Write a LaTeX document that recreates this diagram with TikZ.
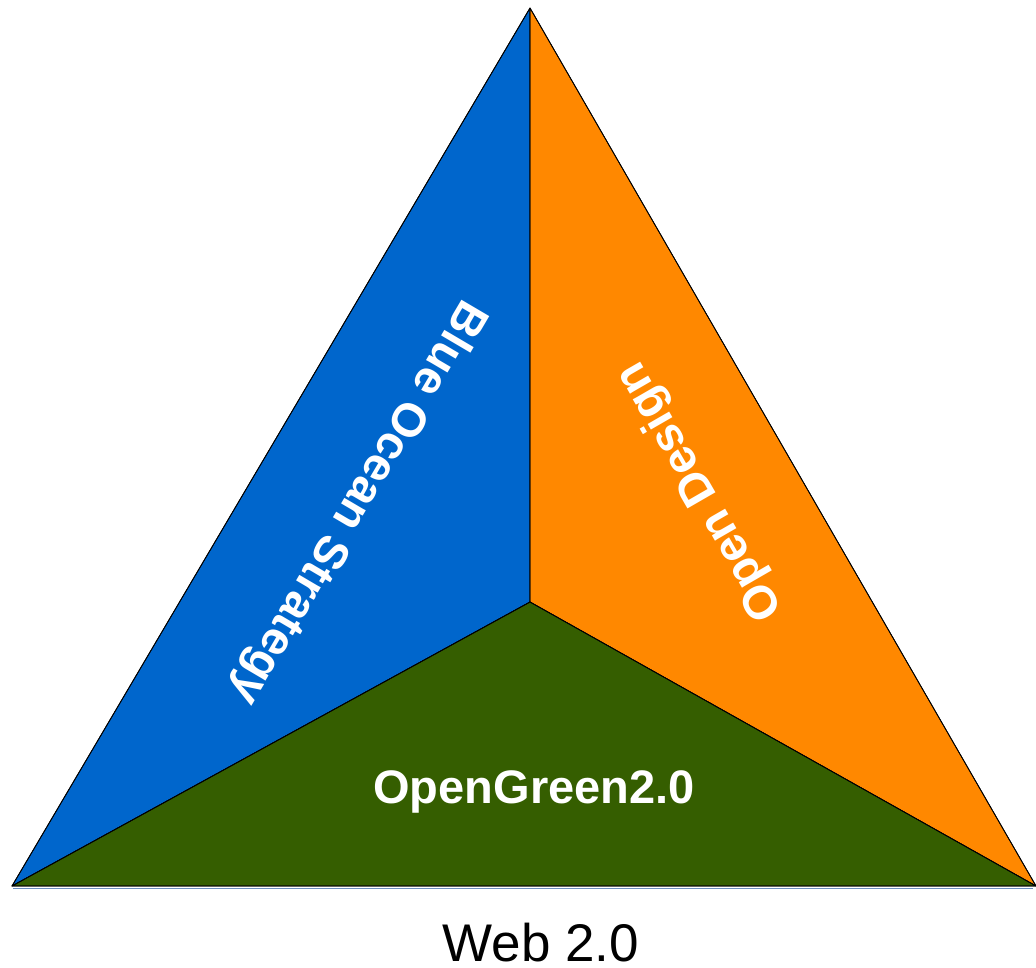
\documentclass[tikz,border=0pt]{standalone}
\usepackage{fontspec}
\setmainfont{Liberation Sans}
\begin{document}
\begin{tikzpicture}[x=1pt,y=-1pt,
  face/.style={draw=black, line width=0.8pt, line join=round},
  lbl/.style={text=white, font=\fontsize{47}{56}\selectfont\bfseries, inner sep=0pt}]
\useasboundingbox (0,0) rectangle (1036,967);
\coordinate (A) at (530,8);
\coordinate (L) at (12,886);
\coordinate (R) at (1036,886);
\coordinate (C) at (530,602);
\coordinate (bl) at (13,888.5);
\coordinate (br) at (1033,888.5);
\fill[face, fill={rgb,255:red,0;green,102;blue,204}] (A) -- (C) -- (L) -- cycle;
\fill[face, fill={rgb,255:red,255;green,136;blue,0}] (A) -- (R) -- (C) -- cycle;
\fill[face, fill={rgb,255:red,53;green,94;blue,0}] (L) -- (C) -- (R) -- cycle;
\draw[face] (A) -- (C) -- (L) -- cycle (A) -- (R) -- (C) (L) -- (R);
\draw[line width=1.6pt, draw={rgb,255:red,108;green,142;blue,191}] (bl) -- (br);
\node[lbl, rotate=-120.5] (blue) at (357,502) {Blue Ocean Strategy};
\node[lbl, rotate=120] (orange) at (701,491) {Open Design};
\node[lbl, anchor=base] (green) at (534,803) {OpenGreen2.0};
\node[inner sep=0pt, anchor=base, font=\fontsize{53}{60}\selectfont] (web) at (541,961) {Web 2.0};
\end{tikzpicture}
\end{document}
